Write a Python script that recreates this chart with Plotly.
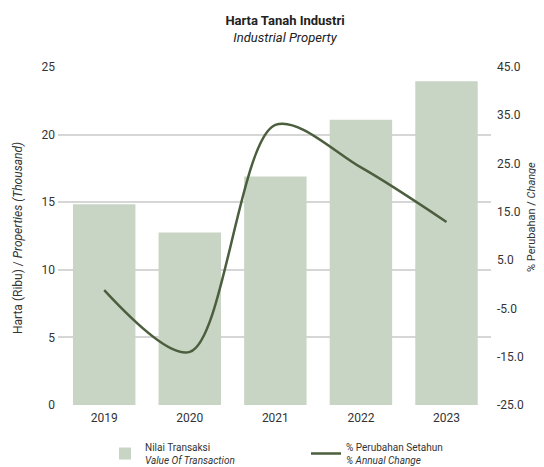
import plotly.graph_objects as go

# data
years = ["2019", "2020", "2021", "2022", "2023"]
properties_thousand = [14.85, 12.75, 16.9, 21.1, 23.95]
annual_change_pct = [-1.2, -14.0, 33.0, 24.2, 12.9]

# right axis ticks (hyphen minus, as printed in the reference)
change_ticks = [45, 35, 25, 15, 5, -5, -15, -25]
change_tick_labels = ["45.0", "35.0", "25.0", "15.0", "5.0", "-5.0", "-15.0", "-25.0"]

FONT = "Roboto, Liberation Sans, sans-serif"
BAR_COLOR = "#c9d5c4"
LINE_COLOR = "#4b5e3d"
TEXT_COLOR = "#333333"

# the page body adds an 8px margin, so the figure is drawn 8px smaller
# and every position below is measured from the page corner minus 8px
OFF = 8
W, H = 544 - OFF, 467 - OFF
L, T = 58 - OFF, 67 - OFF
R = W - (491 - OFF)
B = H - (405 - OFF)


def px_to_paper(px, py):
    # page pixel -> paper coordinates of the plot area
    return (px - OFF - L) / (W - L - R), (H - B - (py - OFF)) / (H - T - B)


fig = go.Figure()

fig.add_trace(go.Bar(
    x=years,
    y=properties_thousand,
    name="Nilai Transaksi<br><i>Value Of Transaction</i>",
    marker=dict(color=BAR_COLOR, line=dict(width=0)),
    yaxis="y",
))

fig.add_trace(go.Scatter(
    x=years,
    y=annual_change_pct,
    name="% Perubahan Setahun<br><i>% Annual Change</i>",
    mode="lines",
    line=dict(color=LINE_COLOR, width=2.5, shape="spline", smoothing=0.9),
    yaxis="y2",
))

left_x, left_y = px_to_paper(18, 238)
right_x, right_y = px_to_paper(531, 217)

fig.update_layout(
    width=W,
    height=H,
    margin=dict(l=L, r=R, t=T, b=B, autoexpand=False),
    paper_bgcolor="white",
    plot_bgcolor="white",
    font=dict(family=FONT, size=12, color=TEXT_COLOR),
    bargap=0.27,
    title=dict(
        text="<b>Harta Tanah Industri</b><br><i>Industrial Property</i>",
        x=(285 - OFF) / W,
        xanchor="center",
        xref="container",
        y=1 - 17 / H,
        yanchor="top",
        font=dict(family=FONT, size=13, color="#222222"),
    ),
    xaxis=dict(
        type="category",
        range=[-0.54, 4.52],
        showgrid=False,
        showline=False,
        ticks="",
        ticklabelstandoff=4,
        tickfont=dict(size=12),
    ),
    yaxis=dict(
        range=[0, 25],
        dtick=5,
        showgrid=True,
        gridcolor="#d6d6d6",
        gridwidth=1.5,
        zeroline=False,
        showline=False,
        ticks="",
        ticklabelstandoff=2,
        tickfont=dict(size=12),
    ),
    yaxis2=dict(
        range=[-25, 45],
        tickmode="array",
        tickvals=change_ticks,
        ticktext=change_tick_labels,
        overlaying="y",
        side="right",
        showgrid=False,
        zeroline=False,
        showline=False,
        ticks="",
        ticklabelstandoff=5,
        tickfont=dict(size=12),
    ),
    showlegend=True,
    legend=dict(
        orientation="h",
        xref="container",
        yref="container",
        x=(105 - OFF) / W,
        y=1 - 426 / H,
        xanchor="left",
        yanchor="top",
        entrywidth=156,
        font=dict(size=10, color=TEXT_COLOR),
        bgcolor="rgba(0,0,0,0)",
    ),
    annotations=[
        dict(
            text="Harta (Ribu) / <i>Properties (Thousand)</i>",
            xref="paper", yref="paper",
            x=left_x, y=left_y,
            xanchor="center", yanchor="middle",
            textangle=-90,
            showarrow=False,
            font=dict(size=12, color=TEXT_COLOR),
        ),
        dict(
            text="% Perubahan / <i>Change</i>",
            xref="paper", yref="paper",
            x=right_x, y=right_y,
            xanchor="center", yanchor="middle",
            textangle=-90,
            showarrow=False,
            font=dict(size=11, color=TEXT_COLOR),
        ),
    ],
)

fig.write_html("out.html")
